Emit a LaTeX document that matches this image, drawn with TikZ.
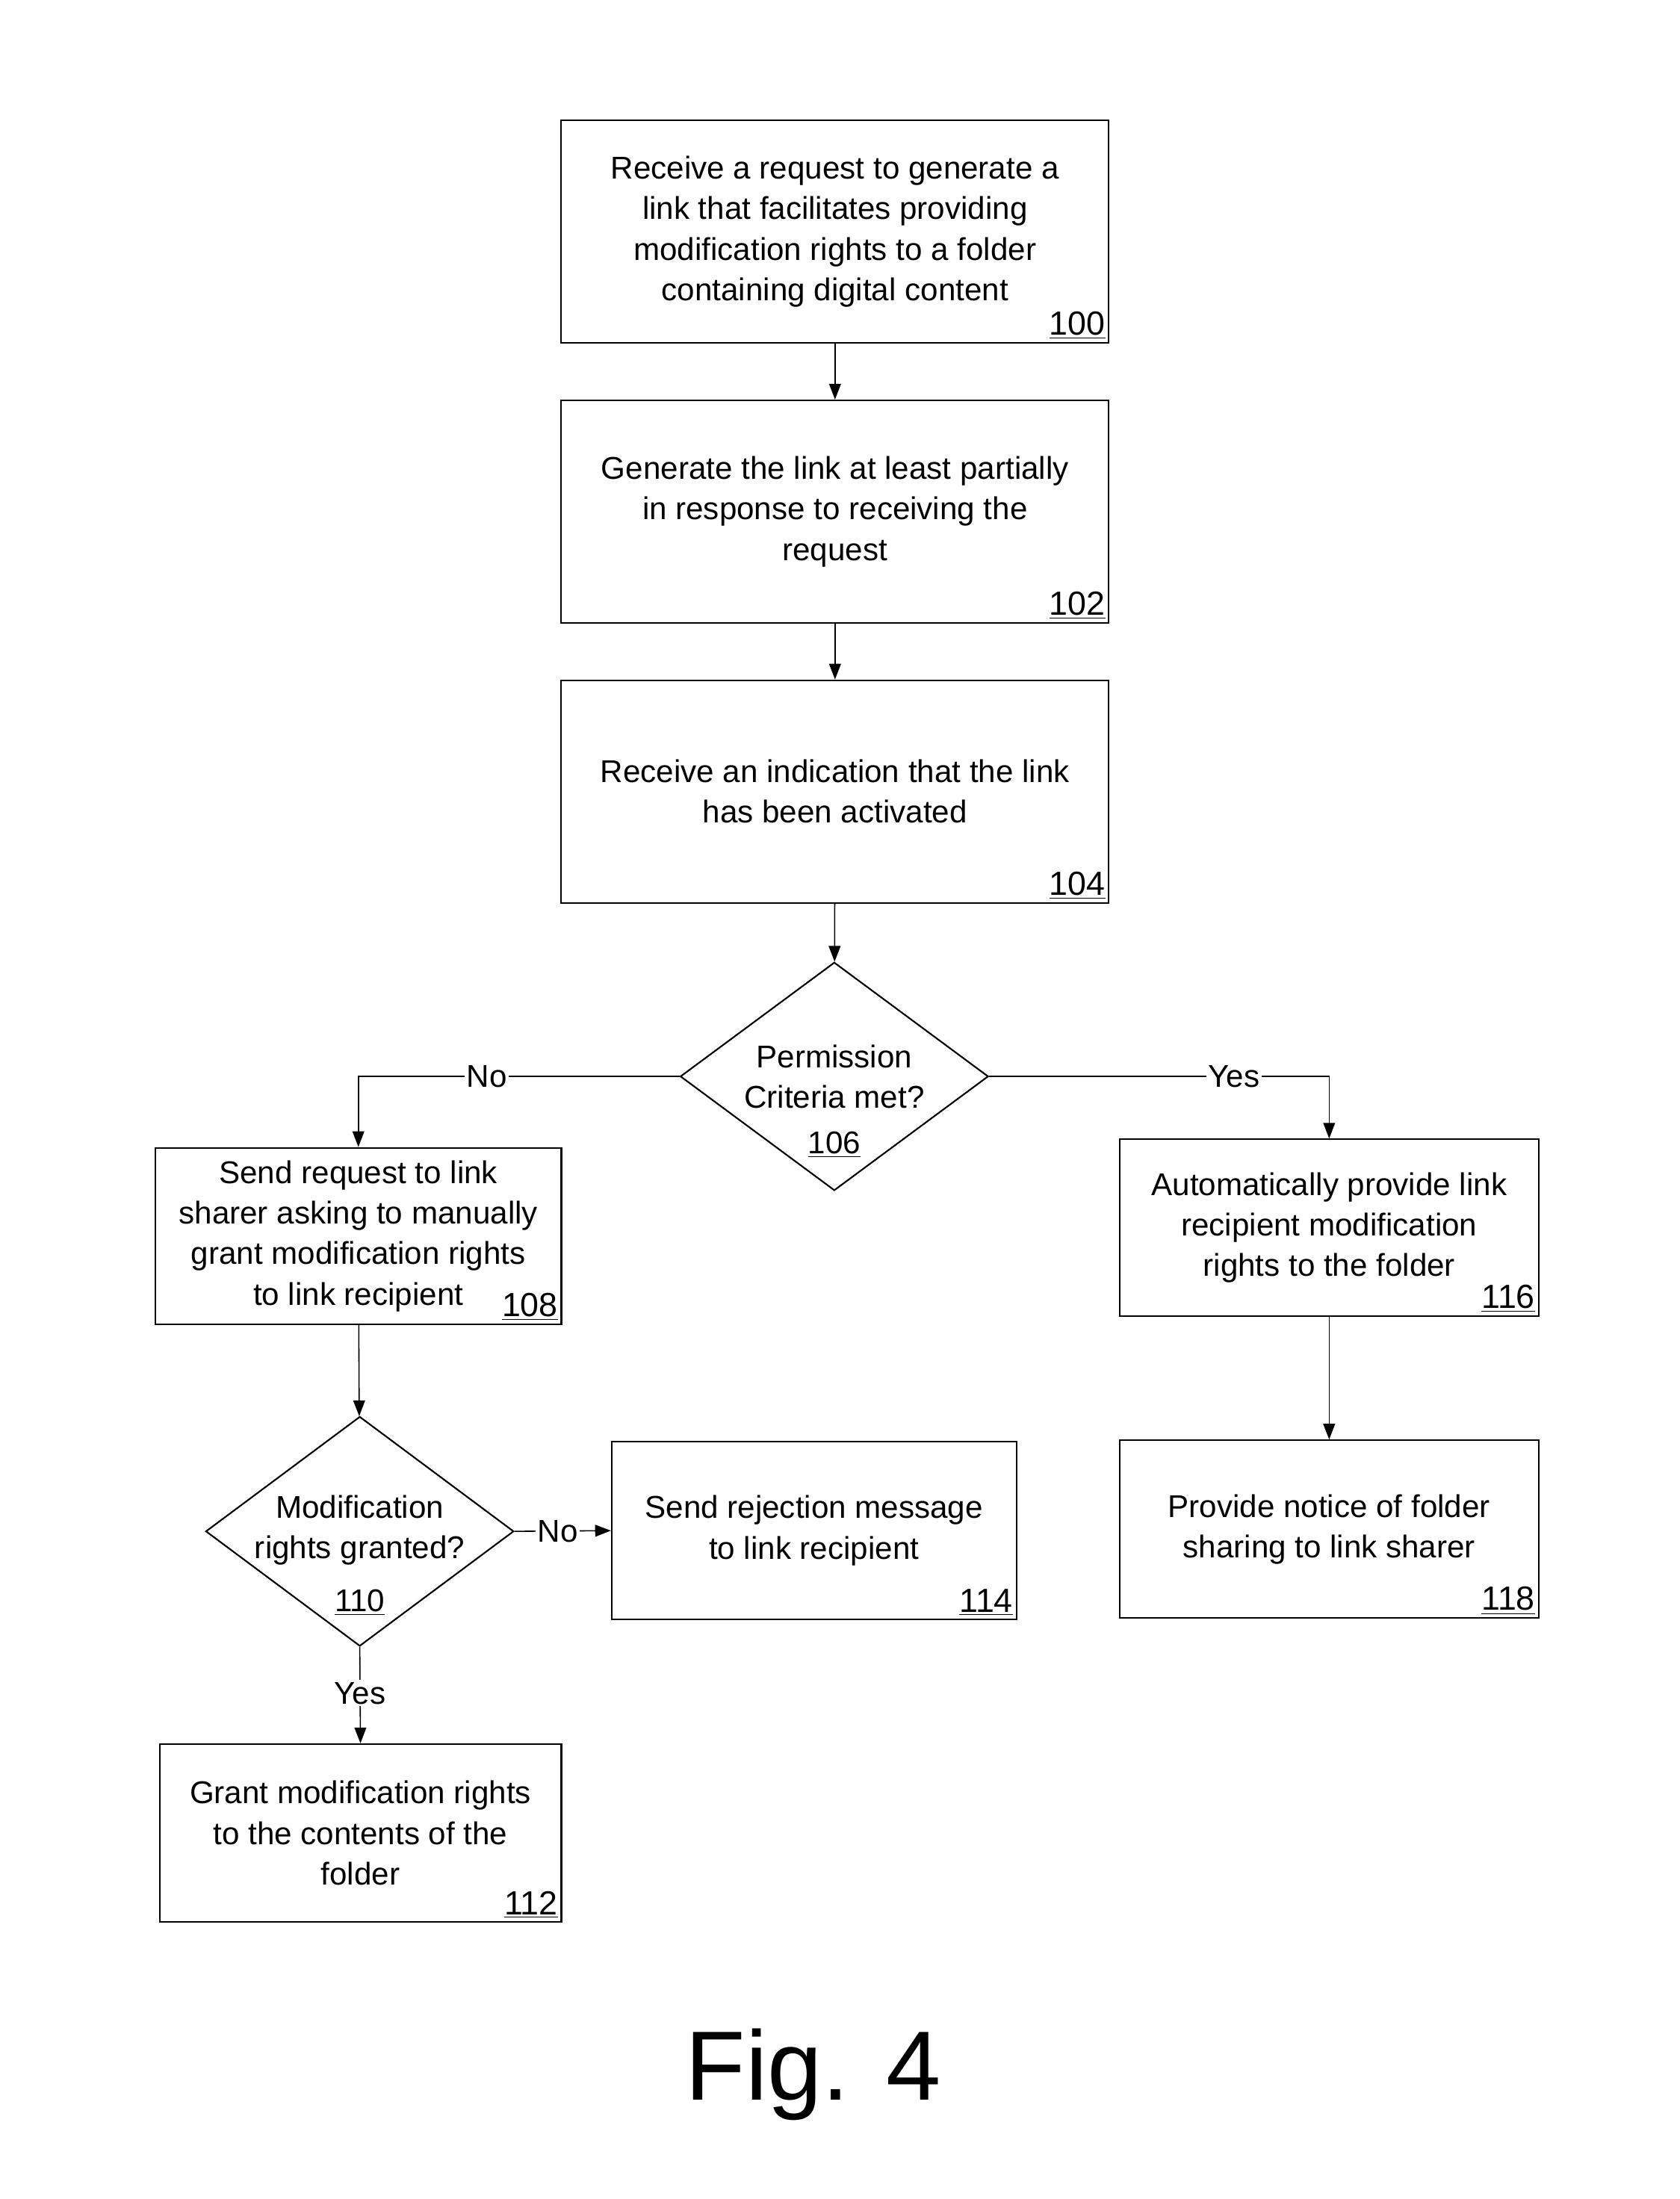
\documentclass[tikz,border=0pt]{standalone}
\usepackage{fontspec}
\setmainfont{Liberation Sans}
\usetikzlibrary{arrows.meta, positioning, shapes.geometric}
\begin{document}
\begin{tikzpicture}[x=0.025cm, y=-0.025cm,
    box/.style={draw, line width=0.8pt, inner sep=0pt, align=center,
      font=\fontsize{16}{20.6}\selectfont},
    decision/.style={draw, diamond, line width=0.8pt, inner sep=0pt, aspect=1.35},
    txt/.style={align=center, font=\fontsize{16}{20.6}\selectfont, inner sep=0pt},
    num/.style={anchor=south east, inner sep=2pt, font=\fontsize{17}{20}\selectfont},
    flow/.style={-{Triangle[length=8pt, width=6pt]}, line width=0.6pt},
    tag/.style={fill=white, inner sep=1pt, font=\fontsize{16}{20}\selectfont}]
  \useasboundingbox (0,0) rectangle (1200,1571);
  % ---- main column ----
  \node[box, minimum width=9.775cm, minimum height=3.975cm] (box100) at (596.5,165.5)
    {Receive a request to generate a\\link that facilitates providing\\modification rights to a folder\\containing digital content};
  \node[num] at (box100.south east) {\underline{100}};
  \node[box, minimum width=9.775cm, minimum height=3.975cm] (box102) at (596.5,365.5)
    {Generate the link at least partially\\in response to receiving the\\request};
  \node[num] at (box102.south east) {\underline{102}};
  \node[box, minimum width=9.775cm, minimum height=3.975cm] (box104) at (596.5,565.5)
    {Receive an indication that the link\\has been activated};
  \node[num] at (box104.south east) {\underline{104}};
  \node[decision, minimum width=5.5cm, minimum height=4.075cm] (dec106) at (596,769) {};
  \node[txt] at (596,769) {Permission\\Criteria met?};
  \node[txt] at (596,818) {\underline{106}};
  % ---- left branch ----
  \node[box, minimum width=7.25cm, minimum height=3.15cm] (box108) at (256,883)
    {Send request to link\\sharer asking to manually\\grant modification rights\\to link recipient\hspace{1.5cm}};
  \node[num] at (box108.south east) {\underline{108}};
  \node[decision, minimum width=5.5cm, minimum height=4.1cm] (dec110) at (257,1094) {};
  \node[txt] at (257,1093) {Modification\\rights granted?};
  \node[txt] at (257,1145) {\underline{110}};
  \node[box, minimum width=7.225cm, minimum height=3.175cm] (box114) at (581.5,1093.5)
    {Send rejection message\\to link recipient};
  \node[num] at (box114.south east) {\underline{114}};
  \node[box, minimum width=7.175cm, minimum height=3.175cm] (box112) at (257.5,1309.5)
    {Grant modification rights\\to the contents of the\\folder};
  \node[num] at (box112.south east) {\underline{112}};
  % ---- right branch ----
  \node[box, minimum width=7.475cm, minimum height=3.15cm] (box116) at (949.5,877)
    {Automatically provide link\\recipient modification\\rights to the folder};
  \node[num] at (box116.south east) {\underline{116}};
  \node[box, minimum width=7.475cm, minimum height=3.175cm] (box118) at (949.5,1092.5)
    {Provide notice of folder\\sharing to link sharer};
  \node[num] at (box118.south east) {\underline{118}};
  % ---- connectors ----
  \draw[flow] (box100) -- (box102);
  \draw[flow] (box102) -- (box104);
  \draw[flow] (box104) -- (dec106);
  \draw[flow] (dec106.west) -| node[tag, pos=0.3] {No} (box108.north);
  \draw[flow] (dec106.east) -| node[tag, pos=0.36] {Yes} (box116.north);
  \draw[flow] (box108) -- (dec110);
  \draw[flow] (dec110.east) -- node[tag, pos=0.45] {No} (box114.west);
  \draw[flow] (dec110.south) -- node[tag, pos=0.48] {Yes} (box112.north);
  \draw[flow] (box116) -- (box118);
  % ---- caption ----
  \node[font=\fontsize{50}{60}\selectfont] at (581,1482) {Fig. 4};
\end{tikzpicture}
\end{document}
